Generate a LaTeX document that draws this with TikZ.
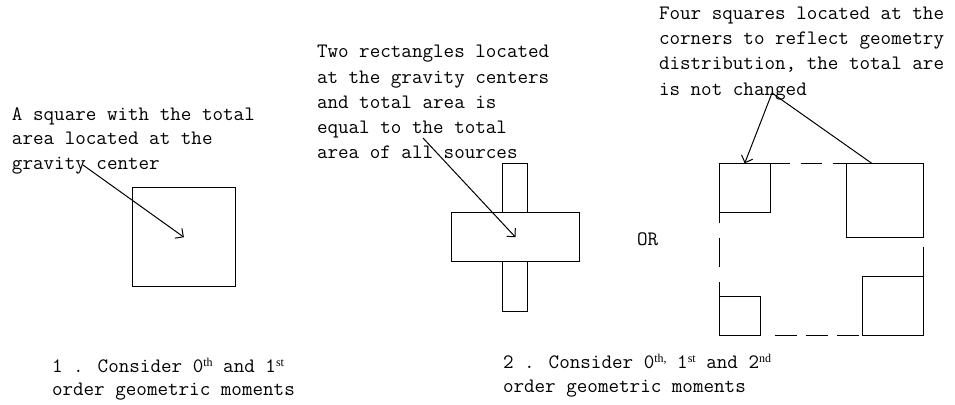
\documentclass[tikz,border=0pt]{standalone}
\usepackage{fontspec}
\usetikzlibrary{arrows.meta}
\newfontfamily\supfont{Liberation Serif}
\newcommand\txtfont{\ttfamily\fontsize{20.5}{25}\selectfont}
\newcommand\upx[1]{\raisebox{6pt}{\supfont\fontsize{12}{12}\selectfont #1}}
\tikzset{
  lbl/.style={anchor=base west, inner sep=0pt, outer sep=0pt, font=\txtfont},
  box/.style={draw, line width=1pt, inner sep=0pt, outer sep=0pt},
  wbox/.style={box, fill=white},
  conn/.style={line width=1pt},
  arr/.style={conn, -{Straight Barb[length=6pt,width=12pt]}},
  dsh/.style={line width=1pt}
}
\begin{document}
\begin{tikzpicture}[x=1pt,y=-1pt]
\useasboundingbox[fill=white] (0,0) rectangle (955,404);

% ---- group 1 ----
\node[lbl] (t1a) at (12,120) {A square with the total};
\node[lbl] (t1b) at (12,144.5) {area located at the};
\node[lbl] (t1c) at (12,169) {gravity center};
\node[box, minimum width=102.3pt, minimum height=99pt] (sq) at (183.9,237.2) {};
\coordinate (s1) at (83,165);
\draw[arr] (s1) -- (sq.center);

% ---- group 2 ----
\node[lbl] (t2a) at (317,58) {Two rectangles located};
\node[lbl] (t2b) at (317,83) {at the gravity centers};
\node[lbl] (t2c) at (317,108) {and total area is};
\node[lbl] (t2d) at (317,133) {equal to the total};
\node[lbl] (t2e) at (317,158) {area of all sources};
\node[box, minimum width=25pt, minimum height=148.4pt] (vr) at (515.2,237.5) {};
\node[wbox, minimum width=127.6pt, minimum height=49pt] (hr) at (515.5,237.2) {};
\coordinate (s2) at (423,138);
\draw[arr] (s2) -- (hr.center);

% ---- OR ----
\node[lbl] (or) at (637,245) {OR};

% ---- group 3 ----
\node[lbl] (t3a) at (659,20) {Four squares located at the};
\node[lbl] (t3b) at (659,45) {corners to reflect geometry};
\node[lbl] (t3c) at (659,70) {distribution, the total are};
\node[lbl] (t3d) at (659,95) {is not changed};

\node[box, minimum width=50.7pt, minimum height=49pt] (tl) at (744.7,187.8) {};
\node[box, minimum width=76.6pt, minimum height=74pt] (tr) at (885,200.3) {};
\node[box, minimum width=40.7pt, minimum height=39pt] (bl) at (739.7,316) {};
\node[box, minimum width=61pt, minimum height=58.8pt] (br) at (892.8,306.1) {};

% dashed outline between the squares
\coordinate (tA) at (769,163.3);
\coordinate (tB) at (846.7,163.3);
\coordinate (bA) at (775,335.5);
\coordinate (bB) at (862.3,335.5);
\coordinate (lA) at (719.3,194);
\coordinate (lB) at (719.3,296.5);
\coordinate (rA) at (923.3,246.7);
\coordinate (rB) at (923.3,276.7);
\draw[dsh, dash pattern=on 21pt off 11pt] (tA) -- (tB);
\draw[dsh, dash pattern=on 21.5pt off 9.5pt] (bA) -- (bB);
\draw[dsh, dash pattern=on 29pt off 15pt] (lA) -- (lB);
\draw[dsh] (rA) -- (rB);

\coordinate (apex) at (772,93);
\coordinate (trp) at (871.7,163.3);
\draw[arr] (apex) -- (tl.north);
\draw[conn] (apex) -- (trp);

% ---- captions ----
\node[lbl] (c1a) at (52,372) {1 . Consider 0\upx{th} and 1\upx{st}};
\node[lbl] (c1b) at (52,395) {order geometric moments};
\node[lbl] (c2a) at (503,368) {2 . Consider 0\upx{th,} 1\upx{st} and 2\upx{nd}};
\node[lbl] (c2b) at (503,392) {order geometric moments};
\end{tikzpicture}
\end{document}
